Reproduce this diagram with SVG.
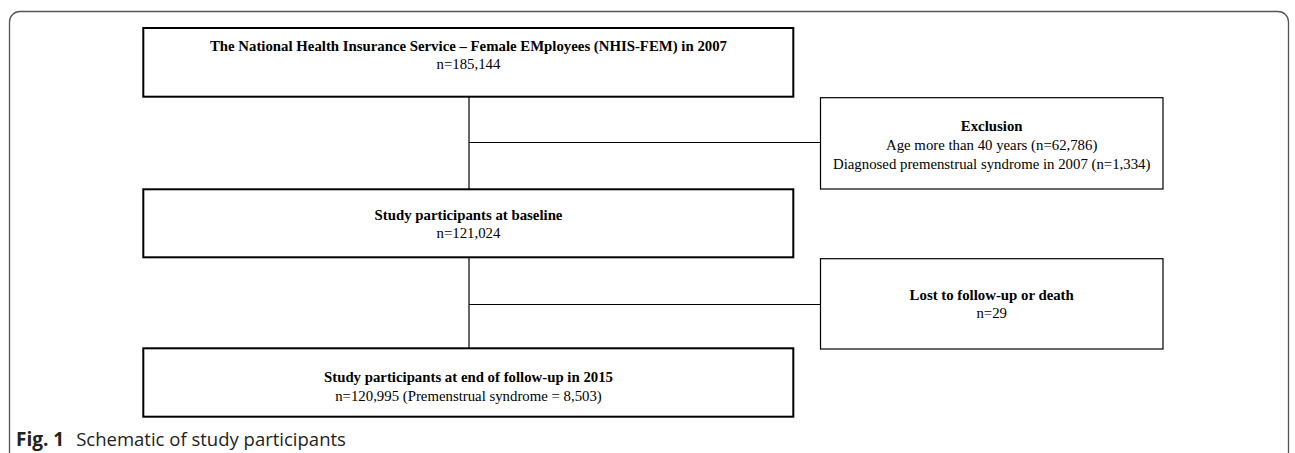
<svg xmlns="http://www.w3.org/2000/svg" width="1295" height="453" viewBox="0 0 1295 453">
<style>
.main{fill:#fff;stroke:#000;stroke-width:2}
.side{fill:#fff;stroke:#000;stroke-width:1.2}
.conn{stroke:#000;stroke-width:1.2;fill:none}
.t{font-family:"Liberation Serif","Times New Roman",serif;font-size:14.8px;fill:#000;text-anchor:middle}
.b{font-weight:bold}
.cap{font-family:"Open Sans","Noto Sans",sans-serif;font-size:18.5px;fill:#222}
</style>
<rect width="1295" height="453" fill="#fff"/>
<path id="frame" d="M9.5,460 V22 A10.5,10.5 0 0 1 20,11.5 H1278 A10.5,10.5 0 0 1 1288.5,22 V460" fill="none" stroke="#555" stroke-width="1.3"/>
<g id="connectors">
<line class="conn" x1="469" y1="97" x2="469" y2="189"/>
<line class="conn" x1="469" y1="142.5" x2="820.5" y2="142.5"/>
<line class="conn" x1="469" y1="258" x2="469" y2="348"/>
<line class="conn" x1="469" y1="304.5" x2="820.5" y2="304.5"/>
</g>
<g id="node-nhis">
<rect class="main" x="143.3" y="28" width="650" height="68.7"/>
<text class="t b" x="468.5" y="51">The National Health Insurance Service – Female EMployees (NHIS-FEM) in 2007</text>
<text class="t" x="468.5" y="69">n=185,144</text>
</g>
<g id="node-exclusion">
<rect class="side" x="820.5" y="97.7" width="342.5" height="91.3"/>
<text class="t b" x="991.7" y="131">Exclusion</text>
<text class="t" x="991.7" y="150">Age more than 40 years (n=62,786)</text>
<text class="t" x="991.7" y="169">Diagnosed premenstrual syndrome in 2007 (n=1,334)</text>
</g>
<g id="node-baseline">
<rect class="main" x="143.3" y="189.3" width="650" height="68"/>
<text class="t b" x="468.5" y="220">Study participants at baseline</text>
<text class="t" x="468.5" y="238">n=121,024</text>
</g>
<g id="node-lost">
<rect class="side" x="820.5" y="258.7" width="342.5" height="90.3"/>
<text class="t b" x="991.7" y="300">Lost to follow-up or death</text>
<text class="t" x="991.7" y="318">n=29</text>
</g>
<g id="node-end">
<rect class="main" x="143.3" y="348.3" width="650" height="68.4"/>
<text class="t b" x="468.5" y="382">Study participants at end of follow-up in 2015</text>
<text class="t" x="468.5" y="401">n=120,995 (Premenstrual syndrome = 8,503)</text>
</g>
<text class="cap" x="16" y="446"><tspan font-weight="bold" font-size="19">Fig. 1</tspan><tspan dx="12">Schematic of study participants</tspan></text>
</svg>
